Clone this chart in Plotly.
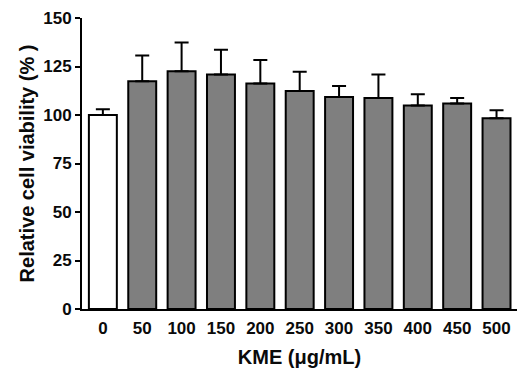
import plotly.graph_objects as go

categories = ["0", "50", "100", "150", "200", "250", "300", "350", "400", "450", "500"]
viability = [100.0, 117.4, 122.6, 120.9, 116.3, 112.4, 109.3, 108.8, 104.9, 105.9, 98.3]
sd_upper = [3.0, 13.3, 14.8, 12.7, 12.0, 9.9, 5.6, 12.1, 5.8, 2.9, 4.2]
bar_colors = ["#ffffff"] + ["#7f7f7f"] * 10

font_family = "Arial, Liberation Sans, sans-serif"

fig = go.Figure()
fig.add_trace(go.Bar(
    x=categories,
    y=viability,
    marker=dict(color=bar_colors, line=dict(color="#000000", width=2)),
    error_y=dict(type="data", array=sd_upper, arrayminus=[0] * len(sd_upper),
                 symmetric=False, color="#000000", thickness=2, width=7),
    width=0.71,
))

fig.update_layout(
    width=517, height=371,
    margin=dict(l=82, r=0, t=18, b=62),
    plot_bgcolor="white", paper_bgcolor="white",
    showlegend=False,
    font=dict(family=font_family, size=17, color="#0a0a0a", weight="bold"),
    xaxis=dict(
        type="category",
        range=[-0.53, 10.52],
        showline=True, linecolor="#000000", linewidth=2,
        ticks="", showgrid=False,
        ticklabelstandoff=3,
        tickfont=dict(size=17, family=font_family, weight="bold"),
        title=dict(text="KME (μg/mL)", font=dict(size=20, family=font_family, weight="bold"), standoff=13),
    ),
    yaxis=dict(
        range=[0, 150],
        tickvals=[0, 25, 50, 75, 100, 125, 150],
        showline=True, linecolor="#000000", linewidth=2,
        ticks="outside", ticklen=5, tickwidth=2, tickcolor="#000000",
        showgrid=False, zeroline=False,
        tickfont=dict(size=17, family=font_family, weight="bold"),
        title=dict(text="Relative cell viability (% )", font=dict(size=20, family=font_family, weight="bold"), standoff=3),
    ),
)

fig.write_html("out.html", config={"displayModeBar": False},
               post_script="document.body.style.margin='0';document.body.style.overflow='hidden';")
